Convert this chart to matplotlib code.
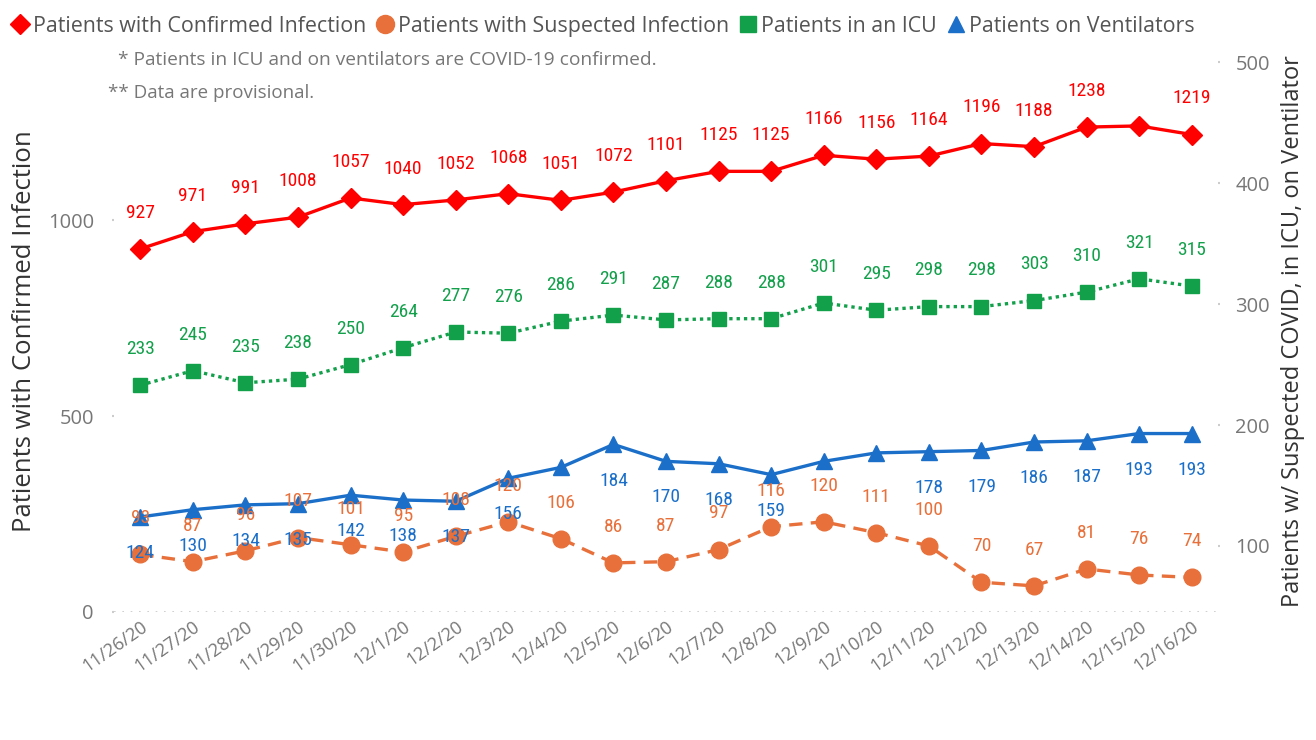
import numpy as np
import matplotlib
matplotlib.use('Agg')
from matplotlib import pyplot as plt
from matplotlib.lines import Line2D
import matplotlib.transforms as mtransforms

dates = ['11/26/20', '11/27/20', '11/28/20', '11/29/20', '11/30/20', '12/1/20', '12/2/20',
         '12/3/20', '12/4/20', '12/5/20', '12/6/20', '12/7/20', '12/8/20', '12/9/20',
         '12/10/20', '12/11/20', '12/12/20', '12/13/20', '12/14/20', '12/15/20', '12/16/20']

confirmed = [927, 971, 991, 1008, 1057, 1040, 1052, 1068, 1051, 1072, 1101, 1125, 1125, 1166,
             1156, 1164, 1196, 1188, 1238, 1241, 1219]
suspected = [93, 87, 96, 107, 101, 95, 108, 120, 106, 86, 87, 97, 116, 120, 111, 100, 70, 67,
             81, 76, 74]
icu = [233, 245, 235, 238, 250, 264, 277, 276, 286, 291, 287, 288, 288, 301, 295, 298, 298,
       303, 310, 321, 315]
vent = [124, 130, 134, 135, 142, 138, 137, 156, 165, 184, 170, 168, 159, 170, 177, 178, 179,
        186, 187, 193, 193]

# labels Power BI dropped because of overlap
confirmed_show = [True] * 21
confirmed_show[19] = False
vent_show = [True] * 21
vent_show[8] = False
vent_show[13] = False
vent_show[14] = False

c_red = '#FF0000'
c_orange = '#E8703A'
c_green = '#13A04B'
c_blue = '#1B6FC8'
c_grey = '#777777'

plt.rcParams['font.family'] = ['Open Sans', 'DejaVu Sans']
lab_font = ['Roboto Condensed', 'Liberation Sans Narrow', 'Roboto', 'DejaVu Sans']

fig = plt.figure(figsize=(13.16, 7.4), dpi=100)
ax = fig.add_axes([0.0866, 0.173, 0.839, 0.759])
ax2 = ax.twinx()

x = np.arange(len(dates))

ax.plot(x, confirmed, color=c_red, lw=2.4, marker='D', ms=10, zorder=3)
ax2.plot(x, suspected, color=c_orange, lw=2.4, ls=(0, (4, 2.5)), marker='o', ms=12)
ax2.plot(x, icu, color=c_green, lw=2.4, ls=(0, (1, 1.2)), marker='s', ms=10.5)
ax2.plot(x, vent, color=c_blue, lw=2.4, marker='^', ms=12)


def put_labels(a, vals, color, dy, show=None):
    for i, v in enumerate(vals):
        if show is not None and not show[i]:
            continue
        a.annotate(str(v), (i, v), xytext=(0, dy), textcoords='offset points',
                   ha='center', va='center', color=color, fontsize=14, family=lab_font)


put_labels(ax, confirmed, c_red, 26, confirmed_show)
put_labels(ax2, suspected, c_orange, 26)
put_labels(ax2, icu, c_green, 26)
put_labels(ax2, vent, c_blue, -26, vent_show)

ax.set_xlim(-0.5, len(dates) - 0.5)
ax.set_ylim(0, 1434)
ax2.set_ylim(45.4, 510)
ax.set_yticks([0, 500, 1000])
ax2.set_yticks([100, 200, 300, 400, 500])
ax.set_xticks(x)
ax.set_xticklabels(dates, rotation=35, ha='right', rotation_mode='anchor')
shift = mtransforms.ScaledTranslation(-0.1, 0, fig.dpi_scale_trans)
for t in ax.get_xticklabels():
    t.set_transform(t.get_transform() + shift)

ax.axhline(0, color='#C8C8C8', lw=1.2, ls=(0, (1, 4)), zorder=0)

for a in (ax, ax2):
    for s in a.spines.values():
        s.set_visible(False)
    a.tick_params(colors=c_grey, labelsize=14.5)
ax.tick_params(axis='x', length=0, labelsize=13, pad=4)
ax.tick_params(axis='y', length=1.5, width=1.5, color='#CCCCCC', pad=13)
ax2.tick_params(axis='y', length=1.5, width=1.5, color='#CCCCCC', pad=11)

ax.set_ylabel('Patients with Confirmed Infection', fontsize=18.5, color='#333333', labelpad=8)
ax2.set_ylabel('Patients w/ Suspected COVID, in ICU, on Ventilator', fontsize=17,
               color='#333333', labelpad=8)

handles = [
    Line2D([], [], ls='none', marker='D', color=c_red, ms=10),
    Line2D([], [], ls='none', marker='o', color=c_orange, ms=13),
    Line2D([], [], ls='none', marker='s', color=c_green, ms=11),
    Line2D([], [], ls='none', marker='^', color=c_blue, ms=12),
]
names = ['Patients with Confirmed Infection', 'Patients with Suspected Infection',
         'Patients in an ICU', 'Patients on Ventilators']
fig.legend(handles, names, loc='upper left', bbox_to_anchor=(-0.006, 1.005), ncol=4,
           frameon=False, fontsize=15.4, handlelength=0.8, handletextpad=0.2,
           columnspacing=0.5, labelcolor='#555555')

fig.text(118 / 1316, 1 - 60 / 740, '* Patients in ICU and on ventilators are COVID-19 confirmed.',
         fontsize=13.8, color=c_grey, va='center')
fig.text(108 / 1316, 1 - 93 / 740, '** Data are provisional.',
         fontsize=13.5, color=c_grey, va='center')

fig.savefig('out.png', dpi=100, facecolor='white')
